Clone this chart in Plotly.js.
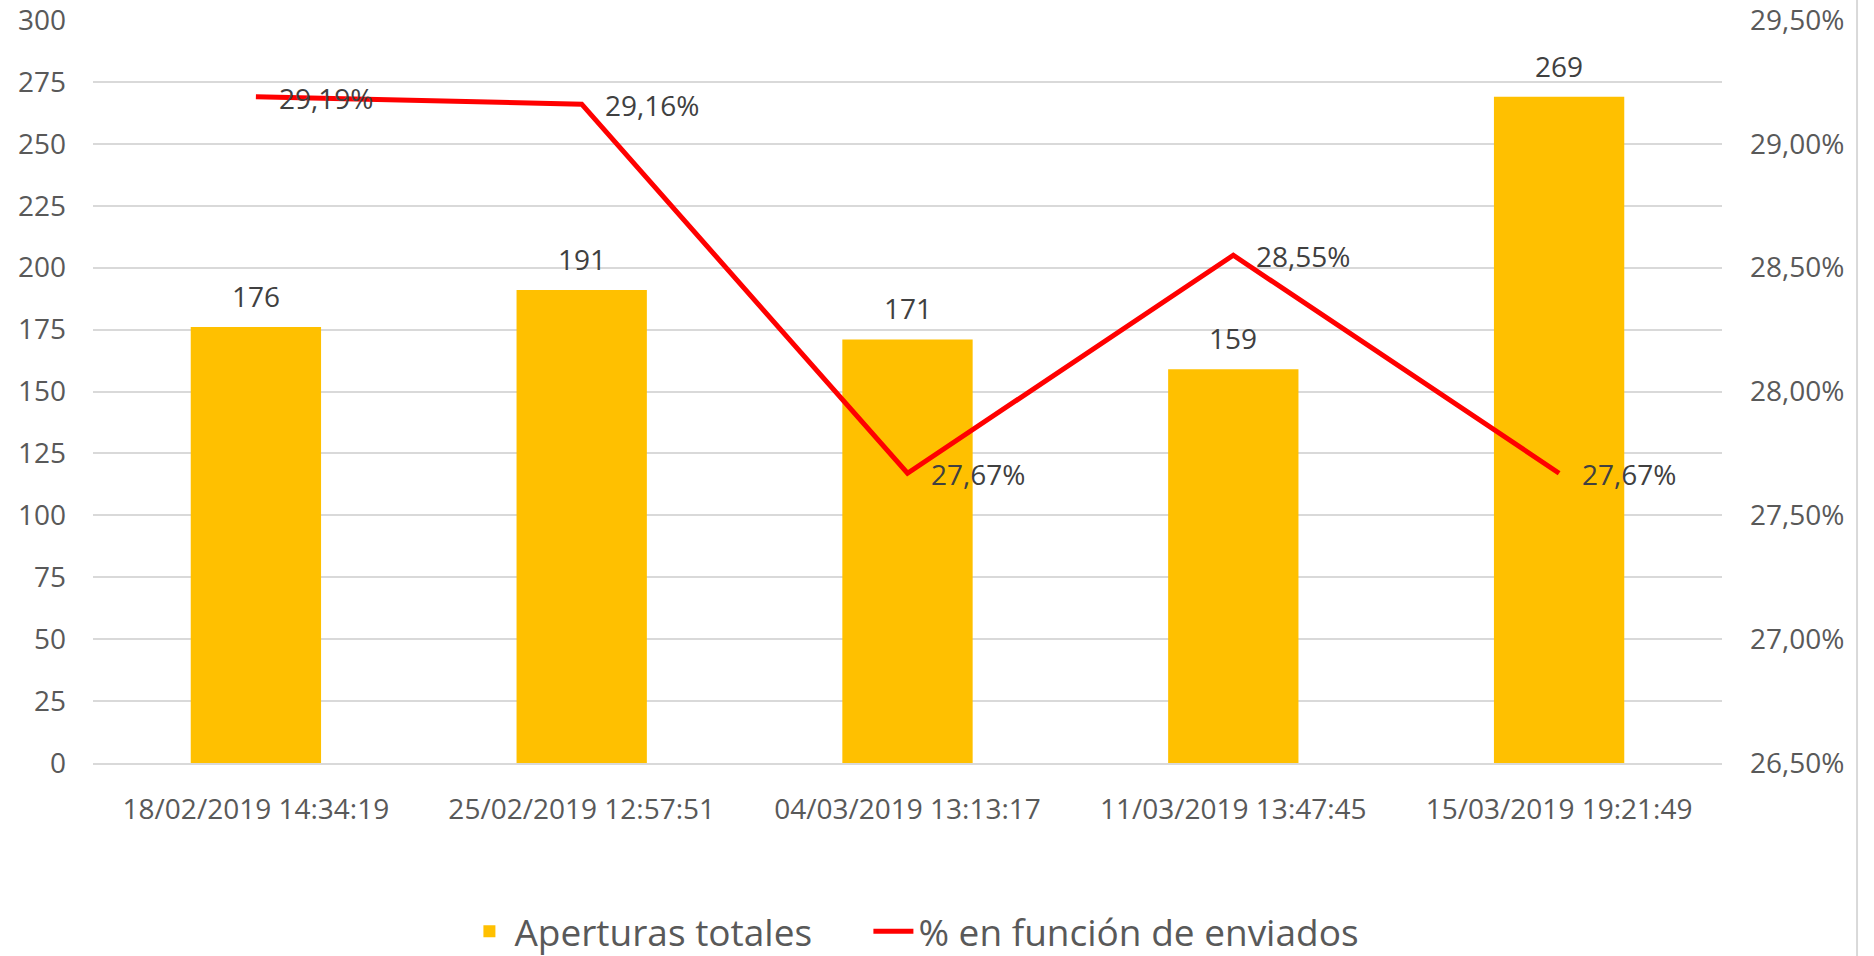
<!DOCTYPE html>
<html>
<head>
<meta charset="utf-8">
<script src="https://cdn.plot.ly/plotly-3.0.1.min.js"></script>
<style>
  html, body { margin: 0; padding: 0; background: #ffffff; }
  #chart { width: 1874px; height: 956px; }
</style>
</head>
<body>
<div id="chart"></div>
<script>
  const categories = [
    "18/02/2019 14:34:19",
    "25/02/2019 12:57:51",
    "04/03/2019 13:13:17",
    "11/03/2019 13:47:45",
    "15/03/2019 19:21:49"
  ];
  const aperturas = [176, 191, 171, 159, 269];
  const porcentaje = [0.2919, 0.2916, 0.2767, 0.2855, 0.2767];

  const FONT = "Open Sans, Lato, sans-serif";
  const TEXT = "#595959";
  const LABEL = "#404040";
  const FS = 28;

  function fmtPct(v) {
    return (v * 100).toFixed(2).replace(".", ",") + "%";
  }

  const barTrace = {
    type: "bar",
    name: "Aperturas totales",
    x: categories,
    y: aperturas,
    marker: { color: "#FFC000" },
    legend: "legend",
    hoverinfo: "skip"
  };

  const lineTrace = {
    type: "scatter",
    mode: "lines",
    name: "% en función de enviados",
    x: categories,
    y: porcentaje,
    yaxis: "y2",
    line: { color: "#FF0000", width: 5 },
    legend: "legend2",
    hoverinfo: "skip"
  };

  const annotations = [];
  categories.forEach((c, i) => {
    annotations.push({
      x: c, y: aperturas[i], xref: "x", yref: "y",
      text: String(aperturas[i]),
      showarrow: false, yanchor: "middle", yshift: 31,
      font: { family: FONT, size: FS, color: LABEL }
    });
    annotations.push({
      x: c, y: porcentaje[i], xref: "x", yref: "y2",
      text: fmtPct(porcentaje[i]),
      showarrow: false, xanchor: "left", yanchor: "middle",
      xshift: 21, yshift: -1,
      font: { family: FONT, size: FS, color: LABEL }
    });
  });

  const legendBase = {
    orientation: "h",
    yanchor: "middle",
    y: -0.227,
    xanchor: "left",
    bgcolor: "rgba(0,0,0,0)",
    font: { family: FONT, size: 37, color: TEXT },
    itemwidth: 40
  };

  const layout = {
    width: 1874,
    height: 956,
    paper_bgcolor: "#ffffff",
    plot_bgcolor: "#ffffff",
    separators: ",.",
    font: { family: FONT, color: TEXT, size: FS },
    margin: { l: 93, r: 152, t: 20, b: 193, autoexpand: false },
    bargap: 0.6,
    showlegend: true,
    legend: { ...legendBase, x: 0.228 },
    legend2: { ...legendBase, x: 0.476 },
    xaxis: {
      type: "category",
      showgrid: false,
      showline: true,
      linecolor: "#d9d9d9",
      linewidth: 2,
      ticks: "",
      ticklabelstandoff: 20,
      tickfont: { family: FONT, size: FS, color: TEXT },
      fixedrange: true
    },
    yaxis: {
      range: [0, 300],
      dtick: 25,
      tick0: 0,
      showgrid: true,
      gridcolor: "#d9d9d9",
      gridwidth: 2,
      zeroline: false,
      showline: false,
      ticks: "",
      ticklabelstandoff: 26,
      ticklabeloverflow: "allow",
      tickfont: { family: FONT, size: FS, color: TEXT },
      fixedrange: true
    },
    yaxis2: {
      overlaying: "y",
      side: "right",
      range: [0.265, 0.295],
      dtick: 0.005,
      tick0: 0.265,
      tickformat: ".2%",
      showgrid: false,
      zeroline: false,
      showline: false,
      ticks: "",
      ticklabelstandoff: 27,
      ticklabeloverflow: "allow",
      tickfont: { family: FONT, size: FS, color: TEXT },
      fixedrange: true
    },
    shapes: [
      {
        type: "line", xref: "paper", yref: "paper",
        x0: 1.0829, x1: 1.0829, y0: -0.3, y1: 1.05,
        line: { color: "#d9d9d9", width: 2 }
      }
    ],
    annotations
  };

  Plotly.newPlot("chart", [barTrace, lineTrace], layout, {
    staticPlot: true,
    displaylogo: false
  });
</script>
</body>
</html>
